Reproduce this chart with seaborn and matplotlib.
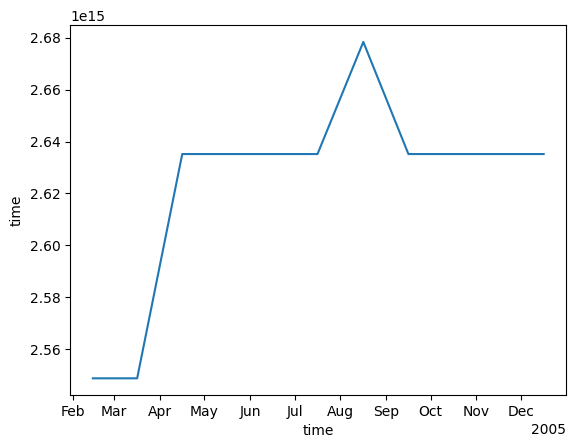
import numpy as np
import pandas as pd
import matplotlib
matplotlib.use("Agg")
import matplotlib.pyplot as plt
import matplotlib.dates as mdates
import seaborn as sns

# month midpoints of 2005 and the gap (ns) from the previous midpoint
times = [
    "2005-02-14 12:00", "2005-03-16 12:00", "2005-04-16 00:00",
    "2005-05-16 12:00", "2005-06-16 00:00", "2005-07-16 12:00",
    "2005-08-16 12:00", "2005-09-16 00:00", "2005-10-16 12:00",
    "2005-11-16 00:00", "2005-12-16 12:00",
]
gap_ns = [
    2.5488e15, 2.5488e15, 2.6352e15, 2.6352e15, 2.6352e15, 2.6352e15,
    2.6784e15, 2.6352e15, 2.6352e15, 2.6352e15, 2.6352e15,
]

df = pd.DataFrame({"time": pd.to_datetime(times), "gap": gap_ns})

fig, ax = plt.subplots(figsize=(5.76, 4.48), dpi=100)
fig.subplots_adjust(left=0.122, right=0.983, top=0.944, bottom=0.118)

sns.lineplot(data=df, x="time", y="gap", ax=ax, color="#1f77b4", linewidth=1.5)

locator = mdates.AutoDateLocator()
ax.xaxis.set_major_locator(locator)
ax.xaxis.set_major_formatter(mdates.ConciseDateFormatter(locator))
ax.set_xlabel("time")
ax.set_ylabel("time")

fig.savefig("out.png", dpi=100)
